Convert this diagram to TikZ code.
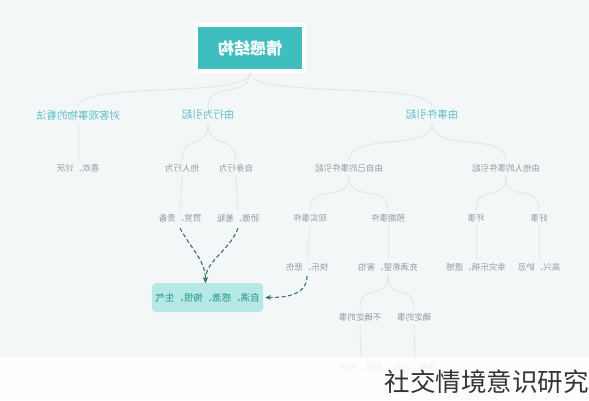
\documentclass[tikz,border=0pt]{standalone}
\usepackage{fontspec}
\usepackage{graphicx}
\newfontfamily\cjk{Noto Sans CJK SC}
\usetikzlibrary{arrows.meta,shadows}
\definecolor{bgc}{RGB}{244,247,248}
\definecolor{teal1}{RGB}{62,190,190}
\definecolor{tealtxt}{RGB}{95,190,200}
\definecolor{graytxt}{RGB}{150,155,158}
\definecolor{edgec}{RGB}{226,231,233}
\definecolor{darkg}{RGB}{55,115,105}
\definecolor{gbfill}{RGB}{182,232,229}
\definecolor{gbtxt}{RGB}{40,150,140}
\newcommand\mir[1]{\reflectbox{#1}}
\begin{document}
\begin{tikzpicture}[x=1pt,y=-1pt,
 lvtwo/.style={font=\cjk\fontsize{10.5}{12}\selectfont, text=tealtxt, inner sep=3pt},
 lv/.style={font=\cjk\fontsize{8.5}{10}\selectfont, text=graytxt, inner sep=3pt},
 edge/.style={draw=edgec, line width=0.9pt},
 darr/.style={draw=darkg, line width=1.1pt, dash pattern=on 4pt off 2.5pt, -{Stealth[length=5.5pt,width=5pt]}},
]
\fill[bgc] (0,0) rectangle (589,400);
\useasboundingbox (0,0) rectangle (589,400);

% root
\node[fill=teal1, draw=white, line width=3.5pt, minimum width=108pt, minimum height=46pt,
      drop shadow={opacity=0.12, shadow xshift=0pt, shadow yshift=-1.5pt},
      font=\cjk\bfseries\fontsize{16}{18}\selectfont, text=white] (root) at (250,48) {\mir{情感结构}};

% level 2
\node[lvtwo] (obj) at (78,115) {\mir{对客观事物的看法}};
\node[lvtwo] (beh) at (208,115) {\mir{由行为引起}};
\node[lvtwo] (evt) at (432,115) {\mir{由事件引起}};

% level 3
\node[lv] (like) at (78,168) {\mir{喜欢、讨厌}};
\node[lv] (oth) at (182,168) {\mir{他人行为}};
\node[lv] (self) at (236,168) {\mir{自身行为}};
\node[lv] (selfevt) at (349,168) {\mir{由自己的事件引起}};
\node[lv] (othevt) at (506,168) {\mir{由他人的事件引起}};

% level 4
\node[lv] (zan) at (180,218) {\mir{赞赏、责备}};
\node[lv] (jiao) at (238,218) {\mir{骄傲、羞耻}};
\node[lv] (real) at (310,218) {\mir{现实事件}};
\node[lv] (exp) at (388,218) {\mir{预期事件}};
\node[lv] (bad) at (476,218) {\mir{坏事}};
\node[lv] (good) at (539,218) {\mir{好事}};

% level 5
\node[lv] (kl) at (307,267) {\mir{快乐、悲伤}};
\node[lv] (hope) at (388,267) {\mir{充满希望、害怕}};
\node[lv] (badr) at (476,267) {\mir{幸灾乐祸、遗憾}};
\node[lv] (goodr) at (539,267) {\mir{高兴、妒忌}};

% level 6
\node[lv] (unc) at (360,317) {\mir{不确定的事}};
\node[lv] (cer) at (414,317) {\mir{确定的事}};

% level 7
\node[lv] (uncr) at (361,367) {\mir{解脱、失望}};
\node[lv] (cerr) at (415,367) {\mir{满意、沮丧}};

% green box
\node[fill=gbfill, rounded corners=4pt, minimum width=109pt, minimum height=29pt,
      font=\cjk\fontsize{9.5}{11}\selectfont, text=gbtxt] (gb) at (207.5,297.5) {\mir{自满、感激、悔恨、生气}};

% tree edges
\foreach \a/\b/\h in {root/obj/26, root/beh/26, root/evt/26,
                      beh/oth/28, beh/self/28, evt/selfevt/30, evt/othevt/30,
                      selfevt/real/30, selfevt/exp/30, othevt/bad/30, othevt/good/30,
                      hope/unc/30, hope/cer/30}
  \draw[edge] (\a.south) .. controls +(0,\h) and +(0,-\h) .. (\b.north);
\foreach \a/\b in {obj/like, oth/zan, self/jiao, real/kl, exp/hope, bad/badr, good/goodr, unc/uncr, cer/cerr}
  \draw[edge] (\a.south) -- (\b.north);

% dashed arrows
\draw[darr] ([yshift=-3pt]zan.south) .. controls +(12,22) and +(0,-22) .. ([xshift=-2pt]gb.north);
\draw[darr] ([yshift=-3pt]jiao.south) .. controls +(-8,22) and +(0,-22) .. ([xshift=-2pt]gb.north);
\draw[darr] ([yshift=-2pt]kl.south) .. controls +(0,20) and +(18,0) .. ([xshift=2pt]gb.east);

% bottom band and watermark
\fill[white, opacity=0.85] (0,357) rectangle (589,400);
\node[anchor=east, inner sep=0pt, font=\cjk\fontsize{25.5}{28}\selectfont, text=black!80] (wm) at (589,382) {社交情境意识研究};
\end{tikzpicture}
\end{document}
